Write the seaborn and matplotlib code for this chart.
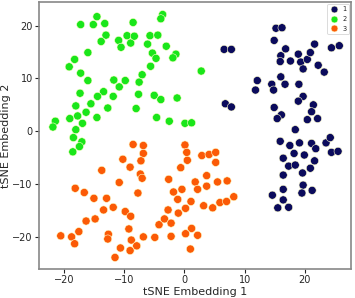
import numpy as np
import pandas as pd
import matplotlib
matplotlib.use("Agg")
import matplotlib.pyplot as plt
import seaborn as sns

# cluster 1 (navy)
x1 = [15.2, 16.2, 14.9, 16.8, 16.0, 15.9, 17.6, 18.9, 19.3, 19.7, 20.4, 20.9, 21.6, 24.4, 25.7,
      22.2, 23.2, 6.6, 7.8, 12.1, 11.8, 14.5, 14.8, 16.0, 16.7, 19.0, 14.9, 16.1, 15.4, 19.7,
      18.9, 21.4, 21.1, 20.4, 22.1, 18.4, 6.8, 7.8, 15.9, 17.5, 19.1, 21.1, 21.8, 23.5, 24.2,
      24.4, 25.5, 18.2, 19.9, 16.4, 21.6, 17.3, 18.4, 20.9, 19.6, 16.4, 19.7, 19.5, 21.2, 16.4,
      14.6, 16.4, 15.5, 17.3]
y1 = [19.5, 19.6, 17.2, 15.6, 14.3, 13.2, 13.3, 14.6, 13.1, 11.8, 13.6, 14.9, 16.5, 15.8, 16.2,
      12.5, 11.2, 15.5, 15.5, 9.6, 7.8, 8.9, 7.8, 10.3, 8.9, 8.9, 4.5, 3.1, 2.4, 6.6,
      5.7, 5.0, 3.7, 2.2, 2.4, 0.3, 5.2, 4.6, -1.9, -2.7, -2.2, -2.3, -3.3, -2.2, -1.2,
      -4.0, -3.8, -4.2, -4.5, -5.1, -5.6, -6.6, -6.4, -7.0, -7.9, -8.3, -10.2, -11.7, -11.2, -11.0,
      -12.1, -13.0, -14.5, -14.4]

# cluster 2 (green)
x2 = [-14.5, -17.2, -15.1, -13.2, -13.0, -13.8, -10.9, -10.5, -9.5, -8.9, -8.3, -8.5, -5.7, -4.4,
      -3.6, -3.9, -6.1, -3.0, -5.3, -4.7, -1.4, -1.9, -5.6, -7.0, -7.5, -9.8, -11.7, -10.8,
      -16.0, -18.2, -19.1, -17.2, -16.0, -17.3, -13.4, -14.4, -11.8, -7.6, -5.0, -3.9, -1.2,
      -12.7, -15.5, -18.0, -16.3, -8.0, -4.6, -2.5, -14.5, -17.7, -19.0, -16.9, -18.0, -21.4,
      -21.8, -18.4, -17.0, -17.4, -18.5, 2.8, 0.1, 1.2]
y2 = [21.7, 20.2, 20.2, 20.4, 18.2, 17.0, 17.2, 15.9, 18.1, 16.7, 18.0, 20.6, 18.1, 18.2,
      22.1, 21.3, 16.5, 16.1, 14.8, 13.8, 14.6, 13.9, 12.3, 10.7, 9.3, 9.6, 9.7, 8.4,
      14.9, 13.6, 12.2, 11.0, 9.6, 7.2, 7.5, 6.6, 6.6, 7.0, 6.8, 6.0, 6.3,
      4.4, 5.2, 4.8, 3.6, 4.3, 2.6, 1.9, 2.6, 2.9, 2.4, 1.5, 0.3, 1.9,
      0.8, -1.2, -2.0, -2.9, -3.9, 11.4, 1.5, 1.6]

# cluster 3 (orange)
x3 = [-8.5, -6.8, -6.8, -10.2, -7.2, -9.0, -13.7, -7.3, -7.0, -10.8, -18.1, -16.6, -15.0, -12.9,
      -7.7, -11.8, -13.4, -9.8, -8.9, -16.3, -14.8, -17.5, -20.5, -18.7, -18.2, -12.6, -12.7,
      -9.2, -8.8, -6.8, -4.9, -10.6, -7.9, -9.0, -11.5, -2.2, -4.2, -3.3, -2.2, -2.7, -2.6,
      -1.8, -1.1, -1.0, -0.4, -0.6, 0.1, 0.4, 0.5, 2.9, 4.1, 5.2, 5.2, 3.7, 1.8, 2.2, 3.7,
      5.5, 7.1, 1.1, 0.2, 3.2, 4.7, 5.9, 7.0, 8.2, 1.2, 0.2, 2.2, 1.0]
y3 = [-2.5, -2.7, -4.2, -5.3, -5.6, -6.8, -7.4, -8.1, -8.9, -9.7, -10.8, -11.6, -12.7, -12.7,
      -11.7, -14.4, -14.9, -15.2, -16.1, -17.0, -16.6, -19.0, -19.8, -20.0, -21.3, -19.5, -20.4,
      -18.5, -20.6, -20.0, -20.1, -22.1, -21.7, -22.6, -23.9, -19.9, -17.7, -16.6, -17.4, -14.9, -9.1,
      -11.5, -12.9, -15.5, -11.0, -6.9, -2.6, -4.0, -5.5, -4.6, -4.4, -4.0, -5.9, -8.4, -9.6, -11.0, -10.4,
      -9.6, -9.4, -13.3, -14.6, -14.1, -14.5, -13.5, -13.3, -12.4, -18.4, -19.4, -19.7, -22.3]

labels = ["1", "2", "3"]
colors = ["#0b0b5c", "#1ae61a", "#fb5a06"]

df = pd.DataFrame({
    "x": x1 + x2 + x3,
    "y": y1 + y2 + y3,
    "cluster": [labels[0]] * len(x1) + [labels[1]] * len(x2) + [labels[2]] * len(x3),
})

sns.set_style("white")
plt.rcParams['font.family'] = ['DejaVu Sans']

fig = plt.figure(figsize=(3.55, 2.98), dpi=100)
ax = fig.add_axes([0.110, 0.097, 0.878, 0.895])

sns.scatterplot(data=df, x="x", y="y", hue="cluster", hue_order=labels,
                palette=dict(zip(labels, colors)), s=34, edgecolor="#ffffcc",
                linewidth=0.4, ax=ax, legend=True)

ax.set_xlim(-24.1, 27.6)
ax.set_ylim(-26.1, 24.4)
ax.set_xticks([-20, -10, 0, 10, 20])
ax.set_yticks([-20, -10, 0, 10, 20])
ax.set_xlabel("tSNE Embedding 1", fontsize=8, labelpad=1)
ax.set_ylabel("tSNE Embedding 2", fontsize=8, labelpad=1)
ax.tick_params(axis="both", labelsize=7, length=3, width=0.8, direction="out",
               bottom=True, left=True, pad=1.5)
for sp in ax.spines.values():
    sp.set_color("#888888")
    sp.set_linewidth(1.2)

leg = ax.legend(loc="upper right", fontsize=4.8, title=None, frameon=True,
                markerscale=0.85, handletextpad=0.5, borderpad=0.35,
                labelspacing=0.55, borderaxespad=0.25, handlelength=1.4)
leg.get_frame().set_edgecolor("#cccccc")
leg.get_frame().set_linewidth(0.6)

fig.savefig("out.png", dpi=100)
